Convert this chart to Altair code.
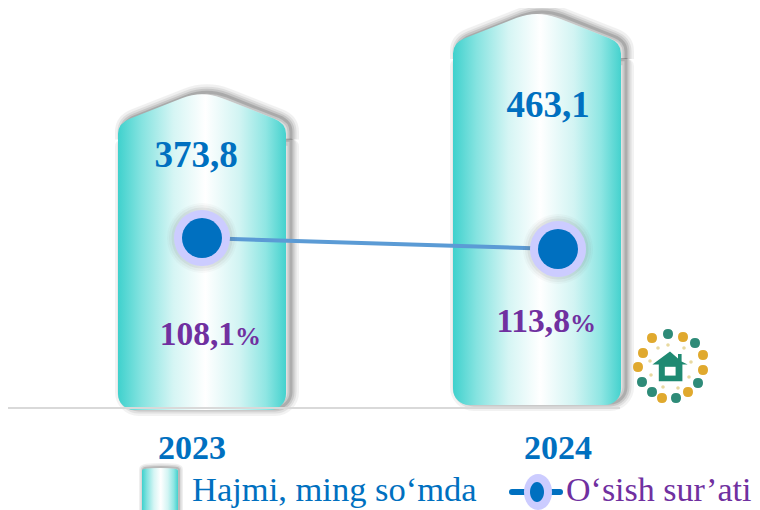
import altair as alt
import pandas as pd

years = ["2023", "2024"]
volumes = [373.8, 463.1]
volume_labels = ["373,8", "463,1"]
growth = [108.1, 113.8]
growth_labels = ["108,1", "113,8"]
series_names = ["Hajmi, ming so‘mda", "O‘sish sur’ati"]

W, H = 744, 502
BLUE, PURPLE = "#0070C0", "#7030A0"
SERIF = "Liberation Serif"
CAP_UNITS = 54.0

df = pd.DataFrame({"year": years, "value": volumes, "vlabel": volume_labels,
                   "growth": growth, "glabel": growth_labels})
df["body_top"] = df["value"] - CAP_UNITS
df["zero"] = 0.0

xs = alt.Scale(type="point", domain=years, range=[194, 550], padding=0)
ys = alt.Scale(domain=[-118.4, 476.06], nice=False, zero=False)
gs = alt.Scale(domain=[-11.07, 249], nice=False, zero=False, reverse=True)
X = alt.X("year:N", scale=xs, axis=None)
Y = alt.Y("value:Q", scale=ys, axis=None)
G = alt.Y("growth:Q", scale=gs, axis=None)

grad = alt.LinearGradient(
    gradient="linear", x1=0, x2=1, y1=0, y2=0,
    stops=[alt.GradientStop(offset=0, color="#3FD1CD"),
           alt.GradientStop(offset=0.14, color="#85E3E0"),
           alt.GradientStop(offset=0.33, color="#D5F5F4"),
           alt.GradientStop(offset=0.52, color="#FFFFFF"),
           alt.GradientStop(offset=0.72, color="#D2F4F3"),
           alt.GradientStop(offset=0.88, color="#8FE6E3"),
           alt.GradientStop(offset=1, color="#45D2CE")])

CAP_OPEN = ("M-1 .56 L-1 .47 Q-1 .345 -.86 .29 L-.24 .045 Q0 -.045 .24 .045 "
            "L.86 .29 Q1 .345 1 .47 L1 .56")
CAP = CAP_OPEN + " Z"

layers = []


def column(i, dx, lift):
    d = df[df.year == years[i]]
    base = alt.Chart(d)
    out = []
    for sw, op in [(16, .07), (11, .1), (7, .14), (3, .2)]:
        out.append(base.mark_bar(width=168, xOffset=dx + 5, yOffset=-lift - 2 + sw / 2 + 0.7, y2Offset=-lift - 2,
                                 fill="#000000", fillOpacity=0, stroke="#404040", strokeWidth=sw,
                                 strokeOpacity=op, strokeJoin="round",
                                 cornerRadiusBottomLeft=16, cornerRadiusBottomRight=16
                                 ).encode(x=X, y=alt.Y("body_top:Q", scale=ys, axis=None), y2="zero:Q"))
        out.append(base.mark_point(shape=CAP_OPEN, size=28224, filled=False, xOffset=dx + 5, yOffset=-lift - 2,
                                   stroke="#404040", strokeWidth=sw, opacity=op, strokeJoin="round"
                                   ).encode(x=X, y=Y))
    out.append(base.mark_bar(width=168, xOffset=dx, yOffset=-lift, y2Offset=-lift, fill=grad,
                             cornerRadiusBottomLeft=16, cornerRadiusBottomRight=16
                             ).encode(x=X, y=alt.Y("body_top:Q", scale=ys, axis=None), y2="zero:Q"))
    out.append(base.mark_point(shape=CAP, size=28224, filled=True, fill=grad, opacity=1, strokeWidth=0,
                               xOffset=dx, yOffset=-lift).encode(x=X, y=Y))
    return out


layers += column(0, 0, 0)
layers += column(1, -21, 5)

# baseline
layers.append(alt.Chart(df.head(1)).mark_rule(color="#D9D9D9", strokeWidth=2).encode(
    x=alt.value(0), x2=alt.value(612), y=alt.value(400)))

# growth line + markers
layers.append(alt.Chart(df).mark_line(color="#5B9BD5", strokeWidth=4).encode(x=X, y=G))
for d_px, op in [(70, .04), (66, .06), (61, .09)]:
    layers.append(alt.Chart(df).mark_circle(size=d_px * d_px, color="#606060", opacity=op).encode(x=X, y=G))
layers.append(alt.Chart(df).mark_circle(size=3136, color="#CCCCFF", opacity=1).encode(x=X, y=G))
layers.append(alt.Chart(df).mark_circle(size=1600, color=BLUE, opacity=1).encode(x=X, y=G))


def text_at(i, field, px_y, dx, size, color, bold=True, align="center"):
    return alt.Chart(df[df.year == years[i]]).mark_text(
        font=SERIF, fontSize=size, fontWeight="bold" if bold else "normal", color=color,
        align=align, baseline="middle", xOffset=dx
    ).encode(x=X, y=alt.value(px_y), text=field)


layers += [
    text_at(0, "vlabel:N", 148, -6, 37, BLUE),
    text_at(1, "vlabel:N", 98, -10, 37, BLUE),
    text_at(0, "year:N", 441, -10, 34, BLUE),
    text_at(1, "year:N", 441, 0, 34, BLUE),
    text_at(0, "glabel:N", 327, 33, 33.5, PURPLE, align="right"),
    text_at(1, "glabel:N", 314, 12, 33.5, PURPLE, align="right"),
]
pct = pd.DataFrame({"p": ["%"]})
for px, py in [(227, 329), (562, 316)]:
    layers.append(alt.Chart(pct).mark_text(font=SERIF, fontSize=26, fontWeight="bold", color=PURPLE,
                                           align="left", baseline="middle").encode(
        x=alt.value(px), y=alt.value(py), text="p:N"))

# legend
one = pd.DataFrame({"name": series_names})
GLYPH = "M-1 3 L-1 .16 Q-1 .06 -.8 .04 Q0 -.03 .8 .04 Q1 .06 1 .16 L1 3 Z"
for sw, op in [(8, .08), (5, .12), (2, .2)]:
    layers.append(alt.Chart(one.head(1)).mark_point(shape=GLYPH, size=1296, filled=False, stroke="#404040",
                                                    strokeWidth=sw, opacity=op).encode(
        x=alt.value(153), y=alt.value(459)))
layers.append(alt.Chart(one.head(1)).mark_point(shape=GLYPH, size=1296, filled=True, fill=grad, opacity=1,
                                                strokeWidth=0).encode(x=alt.value(152), y=alt.value(460)))
layers.append(alt.Chart(one.head(1)).mark_text(font=SERIF, fontSize=34.5, color=BLUE, align="left",
                                               baseline="middle").encode(
    x=alt.value(184), y=alt.value(483), text="name:N"))
layers.append(alt.Chart(one.head(1)).mark_rule(color=BLUE, strokeWidth=6, strokeCap="round").encode(
    x=alt.value(504), x2=alt.value(552), y=alt.value(484)))
layers.append(alt.Chart(one.head(1)).mark_point(filled=True, shape="M-.78 0 A.78 1 0 1 1 .78 0 A.78 1 0 1 1 -.78 0 Z",
                                                size=1296, color="#CCCCFF", opacity=1).encode(
    x=alt.value(530), y=alt.value(484)))
layers.append(alt.Chart(one.head(1)).mark_point(filled=True, shape="M-.7 0 A.7 1 0 1 1 .7 0 A.7 1 0 1 1 -.7 0 Z",
                                                size=400, color=BLUE, opacity=1).encode(
    x=alt.value(529), y=alt.value(484)))
layers.append(alt.Chart(one.tail(1)).mark_text(font=SERIF, fontSize=34, color=PURPLE, align="left",
                                               baseline="middle").encode(
    x=alt.value(558), y=alt.value(483), text="name:N"))


# household icon (decorative), drawn as one path per colour; coordinates in px around the centre
def blobs(items, r):
    s = ""
    for x, y in items:
        a, b = x / 40, y / 40
        q = r / 40
        s += f"M{a - q:.3f} {b:.3f}Q{a - q:.3f} {b - q:.3f} {a:.3f} {b - q:.3f}Q{a + q:.3f} {b - q:.3f} {a + q:.3f} {b:.3f}Q{a + q:.3f} {b + q:.3f} {a:.3f} {b + q:.3f}Q{a - q:.3f} {b + q:.3f} {a - q:.3f} {b:.3f}Z"
    return s


gold_items = [(-18, -28), (-27, -13), (-32, 1), (-8, 32), (18, 26), (13, -29), (33, -11), (33, 4)]
teal_items = [(-2, -32), (-28, 16), (-18, 26), (6, 32), (28, 17), (25, -23)]
pale_items = [(-12, -18), (-20, -5), (-19, 9), (-7, 21), (8, 22), (19, 11), (21, -4), (14, -18), (-2, -21)]
house = ("M0 -.36 L.2 -.19 L.2 -.3 L.29 -.3 L.29 -.11 L.44 -.04 L.31 -.04 L.31 .38 L-.28 .38 "
         "L-.28 -.04 L-.44 -.04 Z")
window = "M-.13 .02 H.14 V.24 H-.13 Z"
ICON = [(blobs(pale_items, 1.8), "#E8D9A0"), (blobs(gold_items, 5), "#E0A92E"),
        (blobs(teal_items, 5), "#2E8B78"), (house, "#1F8A72"), (window, "#FFFFFF")]
for path, col in ICON:
    layers.append(alt.Chart(one.head(1)).mark_point(shape=path, size=6400, filled=True, fill=col, opacity=1,
                                                    strokeWidth=0).encode(x=alt.value(662), y=alt.value(358)))

chart = alt.layer(*layers).resolve_scale(y="independent").properties(
    width=W, height=H, padding=0, autosize=alt.AutoSizeParams(type="none"), background="#FFFFFF"
).configure_view(stroke=None)

chart.save("out.html", embed_options={"renderer": "svg", "actions": False})
